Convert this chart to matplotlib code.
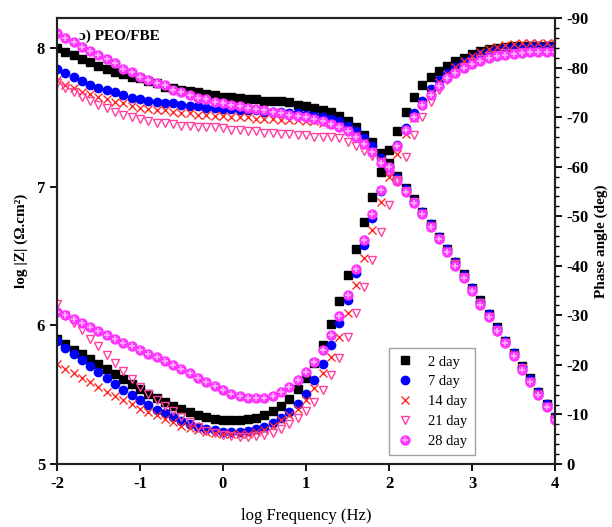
import numpy as np
import matplotlib
matplotlib.use("Agg")
import matplotlib.pyplot as plt
from matplotlib.ticker import MultipleLocator

plt.rcParams['font.family'] = ['Liberation Serif', 'DejaVu Serif']
plt.rcParams['axes.unicode_minus'] = False

## data, 10 points per decade
logF = np.linspace(-2, 4, 61)

labels = ['2 day', '7 day', '14 day', '21 day', '28 day']

# log|Z|
z2 = [8.00, 7.97, 7.95, 7.92, 7.90, 7.87, 7.85, 7.83, 7.81, 7.79,
      7.78, 7.76, 7.75, 7.72, 7.71, 7.70, 7.69, 7.68, 7.67, 7.66,
      7.65, 7.65, 7.64, 7.63, 7.63, 7.62, 7.62, 7.62, 7.61, 7.59,
      7.58, 7.57, 7.55, 7.54, 7.51, 7.47, 7.43, 7.37, 7.32, 7.24,
      7.17, 7.08, 6.99, 6.91, 6.82, 6.73, 6.64, 6.55, 6.46, 6.37,
      6.27, 6.18, 6.08, 5.99, 5.89, 5.80, 5.71, 5.62, 5.52, 5.43, 5.34]
z7 = [7.85, 7.82, 7.79, 7.76, 7.73, 7.71, 7.70, 7.68, 7.66, 7.64,
      7.63, 7.62, 7.61, 7.60, 7.60, 7.59, 7.58, 7.58, 7.57, 7.57,
      7.56, 7.56, 7.55, 7.55, 7.55, 7.54, 7.54, 7.54, 7.53, 7.53,
      7.52, 7.51, 7.50, 7.49, 7.47, 7.44, 7.40, 7.35, 7.29, 7.21,
      7.14, 7.06, 6.98, 6.90, 6.82, 6.73, 6.64, 6.55, 6.46, 6.36,
      6.27, 6.17, 6.08, 5.98, 5.89, 5.80, 5.70, 5.61, 5.52, 5.43, 5.34]
z14 = [7.77, 7.73, 7.71, 7.68, 7.67, 7.65, 7.63, 7.61, 7.60, 7.58,
       7.57, 7.56, 7.55, 7.55, 7.54, 7.53, 7.53, 7.52, 7.52, 7.51,
       7.51, 7.50, 7.50, 7.50, 7.49, 7.49, 7.49, 7.48, 7.48, 7.48,
       7.47, 7.47, 7.46, 7.45, 7.44, 7.41, 7.37, 7.32, 7.26, 7.19,
       7.12, 7.05, 6.97, 6.89, 6.81, 6.72, 6.63, 6.54, 6.45, 6.35,
       6.26, 6.16, 6.07, 5.97, 5.88, 5.79, 5.69, 5.60, 5.51, 5.42, 5.33]
z21 = [7.75, 7.71, 7.68, 7.65, 7.62, 7.59, 7.57, 7.54, 7.52, 7.50,
       7.49, 7.47, 7.46, 7.46, 7.45, 7.44, 7.44, 7.43, 7.43, 7.43,
       7.42, 7.41, 7.41, 7.40, 7.40, 7.39, 7.39, 7.38, 7.38, 7.37,
       7.37, 7.36, 7.36, 7.36, 7.35, 7.32, 7.29, 7.26, 7.22, 7.18,
       7.12, 7.05, 6.97, 6.89, 6.80, 6.71, 6.62, 6.53, 6.44, 6.35,
       6.25, 6.16, 6.06, 5.97, 5.87, 5.78, 5.69, 5.59, 5.50, 5.41, 5.32]
z28 = [8.11, 8.07, 8.04, 8.01, 7.98, 7.95, 7.92, 7.89, 7.85, 7.83,
       7.79, 7.77, 7.75, 7.73, 7.70, 7.68, 7.66, 7.64, 7.63, 7.61,
       7.60, 7.59, 7.58, 7.57, 7.56, 7.55, 7.54, 7.53, 7.52, 7.51,
       7.50, 7.49, 7.47, 7.45, 7.43, 7.40, 7.36, 7.31, 7.25, 7.17,
       7.11, 7.04, 6.96, 6.88, 6.80, 6.71, 6.62, 6.53, 6.43, 6.34,
       6.25, 6.15, 6.06, 5.96, 5.87, 5.78, 5.68, 5.59, 5.50, 5.41, 5.32]

# -phase (deg)
p2 = [25.2, 24.2, 23.1, 22.2, 21.1, 20.2, 19.1, 18.1, 17.1, 16.1,
      15.1, 14.1, 13.4, 12.6, 11.8, 11.1, 10.4, 9.9, 9.4, 9.0,
      8.9, 8.9, 8.9, 9.0, 9.3, 9.9, 10.8, 11.8, 13.2, 15.1,
      17.3, 20.4, 24.1, 28.2, 32.9, 38.1, 43.3, 48.9, 53.9, 58.9,
      63.3, 67.3, 71.0, 74.0, 76.4, 78.0, 79.3, 80.4, 81.3, 82.0,
      82.7, 83.3, 83.7, 84.0, 84.2, 84.3, 84.4, 84.4, 84.4, 84.4, 84.4]
p7 = [24.8, 23.5, 22.2, 21.0, 19.8, 18.5, 17.3, 16.1, 14.9, 13.9,
      12.9, 11.9, 11.0, 10.2, 9.4, 8.7, 8.0, 7.5, 7.1, 6.8,
      6.5, 6.5, 6.5, 6.7, 7.1, 7.5, 8.2, 9.2, 10.4, 12.1,
      14.2, 16.9, 20.2, 24.0, 28.4, 33.1, 38.6, 44.2, 49.7, 55.1,
      60.0, 64.3, 67.9, 70.9, 73.3, 75.6, 77.4, 78.9, 80.2, 81.2,
      82.0, 82.7, 83.2, 83.6, 83.9, 84.1, 84.2, 84.3, 84.3, 84.3, 84.3]
p14 = [20.1, 19.1, 18.3, 17.4, 16.5, 15.6, 14.6, 13.7, 12.9, 12.1,
       11.2, 10.4, 9.8, 9.1, 8.4, 7.7, 7.2, 6.9, 6.4, 6.2,
       6.1, 6.0, 6.0, 6.1, 6.4, 6.9, 7.7, 8.8, 9.9, 11.1,
       12.9, 15.3, 18.3, 21.6, 25.7, 30.5, 36.1, 41.5, 47.2, 52.9,
       58.0, 62.5, 66.5, 69.8, 72.6, 75.0, 77.0, 78.7, 80.1, 81.3,
       82.3, 83.1, 83.7, 84.2, 84.5, 84.7, 84.9, 85.0, 85.0, 85.0, 85.0]
p21 = [32.3, 30.0, 28.4, 27.0, 25.3, 23.8, 22.1, 20.4, 18.8, 17.2,
       15.6, 14.2, 12.9, 11.7, 10.6, 9.4, 8.4, 7.5, 6.7, 6.2,
       5.9, 5.7, 5.5, 5.5, 5.6, 5.8, 6.2, 7.0, 8.0, 9.2,
       10.6, 12.6, 14.9, 17.9, 21.3, 25.7, 30.4, 35.7, 41.1, 46.8,
       52.2, 57.2, 62.0, 66.3, 70.0, 73.0, 75.5, 77.5, 79.0, 80.2,
       81.1, 81.8, 82.3, 82.6, 82.9, 83.0, 83.1, 83.1, 83.2, 83.2, 83.2]
p28 = [30.7, 30.0, 29.2, 28.4, 27.7, 26.9, 26.1, 25.3, 24.5, 23.8,
       23.0, 22.3, 21.5, 20.8, 19.9, 19.1, 18.3, 17.4, 16.6, 15.7,
       14.9, 14.2, 13.7, 13.4, 13.4, 13.4, 13.7, 14.6, 15.5, 16.9,
       18.6, 20.6, 23.0, 26.0, 29.8, 34.1, 39.4, 45.2, 50.4, 55.2,
       60.0, 64.2, 67.4, 70.0, 72.4, 74.5, 76.3, 77.8, 79.0, 80.0,
       80.8, 81.4, 81.9, 82.3, 82.6, 82.8, 83.0, 83.1, 83.1, 83.1, 83.1]

## plot
fig = plt.figure(figsize=(6.12, 5.27), dpi=100)
ax = fig.add_axes([0.0931, 0.1195, 0.8138, 0.8463])
ax2 = ax.twinx()

hB = ax.plot(logF, z2, 's', color='black', ms=5.5, ls='none')[0]
hBl = ax.plot(logF, z7, 'o', color='#0000ff', ms=6, ls='none')[0]
hR = ax.plot(logF, z14, 'x', color='#ff2a2a', ms=5.5, mew=1.0, ls='none')[0]
hT = ax.plot(logF, z21, 'v', mfc='none', mec='#ff3fa0', ms=6, mew=1.0, ls='none')[0]
hP = ax.plot(logF, z28, 'o', color='#ff33ff', ms=6.5, ls='none')[0]
hP2 = ax.plot(logF, z28, '+', color='#ffb3ff', ms=5, mew=1.2, ls='none')[0]

ax2.plot(logF, -np.array(p2), 's', color='black', ms=5.5, ls='none')
ax2.plot(logF, -np.array(p7), 'o', color='#0000ff', ms=6, ls='none')
ax2.plot(logF, -np.array(p14), 'x', color='#ff2a2a', ms=5.5, mew=1.0, ls='none')
ax2.plot(logF, -np.array(p21), 'v', mfc='none', mec='#ff3fa0', ms=6, mew=1.0, ls='none')
ax2.plot(logF, -np.array(p28), 'o', color='#ff33ff', ms=6.5, ls='none')
ax2.plot(logF, -np.array(p28), '+', color='#ffb3ff', ms=5, mew=1.2, ls='none')

ax.set_xlim(-2, 4)
ax.set_ylim(5, 8.216)
ax2.set_ylim(0, -90)
ax.set_xticks([-2, -1, 0, 1, 2, 3, 4])
ax.set_yticks([5, 6, 7, 8])
ax2.set_yticks(np.arange(0, -91, -10))
ax2.yaxis.set_minor_locator(MultipleLocator(2))

for a in (ax, ax2):
    for s in a.spines.values():
        s.set_linewidth(1.5)
        s.set_color('#222222')
    a.tick_params(direction='out', length=5, width=1.3, labelsize=12)
    a.tick_params(which='minor', direction='out', length=3, width=1.0)
    for t in a.get_xticklabels() + a.get_yticklabels():
        t.set_fontweight('bold')

ax.set_xlabel('log Frequency (Hz)', fontsize=12, labelpad=12)
ax.set_ylabel('log |Z| (Ω.cm²)', fontsize=11, fontweight='bold', labelpad=6)
ax2.set_ylabel('Phase angle (deg)', fontsize=11, fontweight='bold', labelpad=4)

ax.text(0.045, 0.975, 'ɔ) PEO/FBE', transform=ax.transAxes, fontsize=11,
        fontweight='bold', va='top', ha='left')

leg = ax.legend([hB, hBl, hR, hT, (hP, hP2)], labels, loc='lower left',
                bbox_to_anchor=(0.652, 0.004), numpoints=1, fontsize=10.5,
                frameon=True, fancybox=False, edgecolor='#888888',
                handlelength=1.2, handletextpad=1.0, labelspacing=0.45,
                borderpad=0.5)
leg.get_frame().set_linewidth(1.0)

fig.savefig('out.png', dpi=100)
